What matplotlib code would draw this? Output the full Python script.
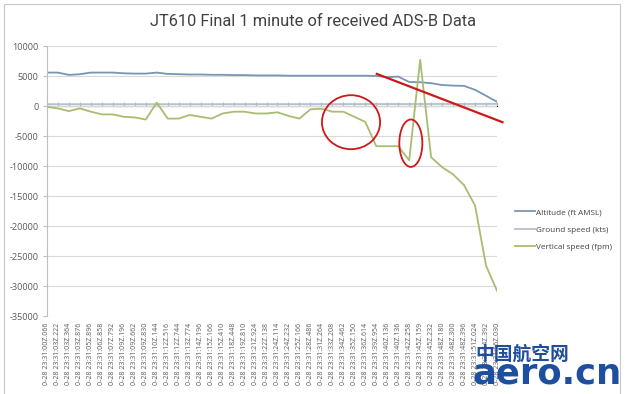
import matplotlib
matplotlib.use("Agg")
import matplotlib.pyplot as plt
from matplotlib.patches import Ellipse, Rectangle
import numpy as np

# ---------------- data ----------------
times = ["00Z.066", "03Z.222", "03Z.364", "03Z.876", "05Z.896", "06Z.858",
         "07Z.792", "09Z.196", "09Z.662", "09Z.830", "10Z.144", "12Z.516",
         "12Z.744", "13Z.774", "14Z.196", "15Z.166", "15Z.410", "18Z.448",
         "19Z.810", "21Z.924", "22Z.138", "24Z.114", "24Z.232", "25Z.166",
         "28Z.486", "31Z.264", "33Z.208", "34Z.462", "35Z.150", "36Z.614",
         "39Z.954", "40Z.136", "40Z.136", "42Z.258", "45Z.159", "45Z.232",
         "48Z.180", "48Z.300", "48Z.396", "51Z.024", "54Z.392", "56Z.030"]
tick_labels = ["0-28 23:31:" + t for t in times]

altitude = [5570, 5570, 5180, 5300, 5570, 5570, 5570, 5450, 5400, 5400,
            5570, 5350, 5300, 5250, 5250, 5200, 5200, 5150, 5150, 5100,
            5100, 5100, 5050, 5050, 5050, 5050, 5050, 5050, 5050, 5050,
            5000, 4800, 4900, 4000, 3960, 3800, 3500, 3400, 3350, 2700,
            1700, 700]

ground_speed = [300, 300, 298, 299, 300, 301, 300, 301, 302, 301,
                303, 304, 303, 305, 306, 306, 307, 308, 309, 310,
                311, 312, 313, 313, 314, 316, 318, 320, 321, 323,
                326, 328, 328, 331, 334, 334, 338, 338, 339, 342,
                345, 350]

vertical_speed = [-150, -400, -850, -400, -950, -1400, -1400, -1800, -1900, -2250,
                  560, -2100, -2100, -1500, -1800, -2100, -1250, -950, -950, -1250,
                  -1250, -1050, -1650, -2100, -550, -450, -950, -950, -1800, -2650,
                  -6700, -6700, -6700, -9050, 7700, -8550, -10200, -11400, -13200, -16600,
                  -26600, -30800]

series_names = ["Altitude (ft AMSL)", "Ground speed (kts)", "Vertical speed (fpm)"]
series_colors = ["#7896B3", "#B4C0CC", "#A9BC72"]

y_ticks = list(range(-35000, 10001, 5000))
title = "JT610 Final 1 minute of received ADS-B Data"

# annotation shapes (category index, value units)
ellipse1 = dict(center=(27.7, -2700), w=5.3, h=9000)
ellipse2 = dict(center=(33.15, -6200), w=2.1, h=7900)
red_line = ([30.05, 41.5], [5350, -2700])

# ---------------- figure ----------------
fig = plt.figure(figsize=(6.29, 3.94), dpi=100)
ax = fig.add_axes([47 / 629, 1 - 316 / 394, 450 / 629, 270 / 394])

x = np.arange(len(times))
ax.set_xlim(0, len(times) - 1)
ax.set_ylim(-35000, 10000)
ax.set_yticks(y_ticks)
ax.set_yticklabels([str(v) for v in y_ticks], fontsize=6.6, color="#595959",
                   family=["Open Sans", "DejaVu Sans"])
ax.grid(axis="y", color="#D9D9D9", lw=0.8)
ax.set_axisbelow(True)
for s in ["top", "right", "bottom"]:
    ax.spines[s].set_visible(False)
ax.spines["left"].set_color("#BFBFBF")
ax.spines["left"].set_linewidth(0.8)
ax.tick_params(axis="y", length=3, color="#BFBFBF", pad=3)

ax.set_xticks(x)
ax.set_xticklabels(tick_labels, rotation=90, fontsize=5, color="#595959",
                   family=["Open Sans", "DejaVu Sans"])
ax.tick_params(axis="x", length=0, pad=5)

# category axis crossing at zero
zero_frac = (0 - (-35000)) / 45000
sec = ax.secondary_xaxis(zero_frac)
sec.set_xticks(x)
sec.set_xticklabels([])
sec.tick_params(axis="x", length=3, direction="out", color="#A8B8C8", width=0.8)
sec.spines["bottom"].set_color("#A8B8C8")
sec.spines["bottom"].set_linewidth(0.8)

for vals, name, col in zip([altitude, ground_speed, vertical_speed], series_names, series_colors):
    ax.plot(x, vals, color=col, lw=1.3, label=name, solid_joinstyle="round")

# red annotations
red = "#D01818"
ax.add_patch(Ellipse(ellipse1["center"], ellipse1["w"], ellipse1["h"], fill=False,
                     edgecolor=red, lw=1.3, zorder=5))
ax.add_patch(Ellipse(ellipse2["center"], ellipse2["w"], ellipse2["h"], fill=False,
                     edgecolor=red, lw=1.3, zorder=5))
ax.plot(red_line[0], red_line[1], color=red, lw=1.6, clip_on=False, zorder=5)

# title
fig.text(313 / 629, 1 - 22 / 394, title, ha="center", va="center", fontsize=11.8,
         color="#404040", family=["Roboto", "DejaVu Sans"])

# legend
handles, labels = ax.get_legend_handles_labels()
fig.legend(handles, labels, loc="upper left", bbox_to_anchor=(508 / 629, 1 - 201 / 394),
           frameon=False, handlelength=2.4, handletextpad=0.15,
           labelspacing=1.2, labelcolor="#404040",
           prop={"family": ["Open Sans", "DejaVu Sans"], "size": 5.9})

# outer chart border
fig.add_artist(Rectangle((4 / 629, -0.05), 616 / 629, 1.05 - 4 / 394, transform=fig.transFigure,
                         fill=False, edgecolor="#C8C8C8", lw=0.8))

# watermark
fig.text(475 / 629, 1 - 354 / 394, "中国航空网", fontsize=13.5, color="#1E4E9E", weight="bold",
         family=["Noto Sans CJK SC", "DejaVu Sans"], ha="left", va="center", zorder=10)
fig.text(472 / 629, 1 - 373 / 394, "aero.cn", fontsize=25.5, color="#1E4E9E", weight="bold",
         family=["DejaVu Sans"], ha="left", va="center", zorder=10)

fig.savefig("out.png", dpi=100)
